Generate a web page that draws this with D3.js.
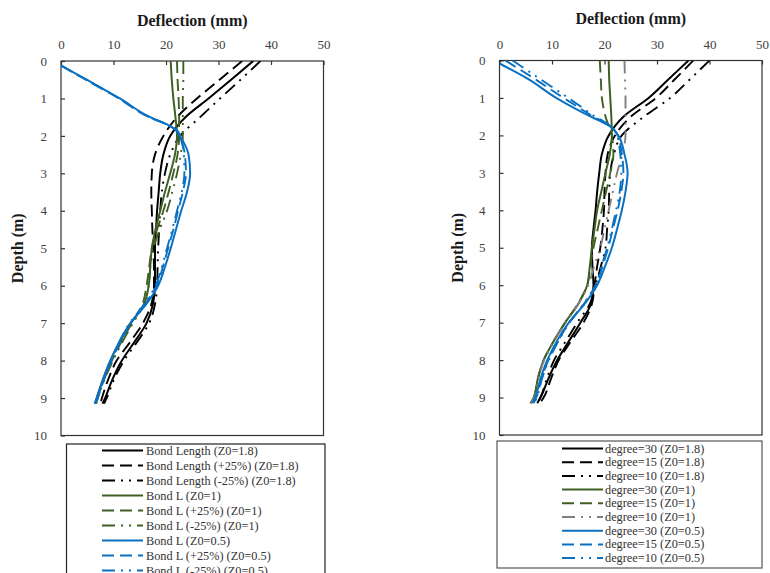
<!DOCTYPE html>
<html><head><meta charset="utf-8">
<script src="https://cdn.jsdelivr.net/npm/d3@7"></script>
<style>
body{margin:0;background:#fff;}
svg{display:block;font-family:"Liberation Serif","Times New Roman",serif;}
svg text{font-family:"Liberation Serif","Times New Roman",serif !important;}
</style></head>
<body>
<svg id="c" width="770" height="573"></svg>
<script>
// ---------- DATA ----------
const xTicks = [0, 10, 20, 30, 40, 50];
const yTicks = [0, 1, 2, 3, 4, 5, 6, 7, 8, 9, 10];
const xTitle = "Deflection (mm)";
const yTitle = "Depth (m)";

const depth = [0, 0.5, 1, 1.5, 2, 2.5, 3, 3.5, 4, 4.5, 5, 5.5, 6, 6.5, 7, 7.5, 8, 8.5, 9, 9.15];
const depthBlueL = [0.12, 0.5, 1, 1.5, 1.7, 1.85, 2, 2.5, 3, 3.5, 4, 4.5, 5, 5.5, 6, 6.5, 7, 7.5, 8, 8.5, 9, 9.15];
const depthBlueR1 = [0.08, 0.5, 1, 1.3, 1.5, 1.6, 1.75, 2, 2.5, 3, 3.5, 4, 4.5, 5, 5.5, 6, 6.5, 7, 7.5, 8, 8.5, 9, 9.15];
const depthBlueR2 = [0, 0.5, 1, 1.3, 1.5, 1.6, 1.75, 2, 2.5, 3, 3.5, 4, 4.5, 5, 5.5, 6, 6.5, 7, 7.5, 8, 8.5, 9, 9.15];

// Left chart
const leftNames = ["Bond Length (Z0=1.8)", "Bond Length (+25%) (Z0=1.8)", "Bond Length (-25%) (Z0=1.8)",
  "Bond L (Z0=1)", "Bond L (+25%) (Z0=1)", "Bond L (-25%) (Z0=1)",
  "Bond L (Z0=0.5)", "Bond L (+25%) (Z0=0.5)", "Bond L (-25%) (Z0=0.5)"];
const L_black = [36.6, 32.4, 28.1, 23.7, 20.8, 19.5, 18.9, 18.6, 18.3, 18.1, 17.9, 17.9, 17.9, 17.5, 16.3, 14.0, 11.6, 9.8, 8.4, 7.9];
const L_blackP = [34.5, 30.2, 25.9, 22.1, 19.5, 17.9, 17.3, 17.2, 17.3, 17.4, 17.6, 17.7, 17.7, 17.2, 15.6, 13.2, 10.6, 9.0, 7.8, 7.5];
const L_blackM = [38.0, 34.2, 30.3, 26.5, 22.7, 20.8, 19.8, 19.2, 18.9, 18.7, 18.5, 18.4, 18.3, 17.9, 16.8, 14.5, 12.0, 10.1, 8.7, 8.2];
const L_green = [20.9, 21.1, 21.4, 21.8, 22.1, 21.7, 20.8, 19.8, 18.9, 18.0, 17.3, 17.0, 16.7, 15.8, 13.3, 11.2, 9.4, 8.0, 6.8, 6.5];
const L_greenP = [22.1, 22.2, 22.4, 22.5, 22.5, 22.2, 21.4, 20.5, 19.5, 18.3, 17.3, 16.8, 16.3, 15.5, 13.5, 11.5, 9.7, 8.2, 6.9, 6.6];
const L_greenM = [23.3, 23.3, 23.2, 23.2, 23.2, 22.8, 22.1, 21.2, 20.2, 18.8, 17.6, 17.0, 16.7, 15.8, 13.7, 11.7, 9.9, 8.3, 7.0, 6.7];
const L_blue = [0, 4.9, 11.2, 17.0, 20.3, 22.1, 22.7, 24.3, 24.6, 24.0, 22.9, 21.9, 20.9, 19.8, 18.5, 16.2, 13.2, 11.1, 9.4, 8.0, 6.8, 6.4];
const L_blueP = [0, 4.7, 11.0, 16.8, 20.2, 21.9, 22.5, 23.6, 23.8, 23.2, 22.3, 21.4, 20.4, 19.4, 18.2, 16.0, 13.3, 11.3, 9.6, 8.2, 7.0, 6.6];
const L_blueM = [0, 4.8, 11.1, 16.9, 20.2, 22.0, 22.6, 23.4, 23.5, 23.0, 22.1, 21.2, 20.2, 19.2, 18.0, 15.8, 13.1, 11.1, 9.5, 8.1, 6.9, 6.5];

// Right chart
const rightNames = ["degree=30 (Z0=1.8)", "degree=15 (Z0=1.8)", "degree=10 (Z0=1.8)",
  "degree=30 (Z0=1)", "degree=15 (Z0=1)", "degree=10 (Z0=1)",
  "degree=30 (Z0=0.5)", "degree=15 (Z0=0.5)", "degree=10 (Z0=0.5)"];
const R_black30 = [36.0, 32.2, 28.4, 23.6, 20.8, 19.5, 19.0, 18.6, 18.3, 17.9, 17.6, 17.7, 17.9, 17.4, 15.4, 13.2, 11.0, 9.3, 7.8, 7.2];
const R_black15 = [36.9, 33.4, 29.8, 25.0, 22.0, 20.6, 20.2, 20.0, 19.9, 19.6, 19.2, 18.6, 18.1, 17.6, 16.0, 13.6, 11.3, 9.8, 8.4, 7.7];
const R_black10 = [40.0, 36.3, 32.5, 27.5, 23.3, 21.8, 21.1, 20.9, 20.8, 20.5, 20.2, 19.3, 18.3, 17.2, 14.8, 12.6, 10.4, 9.0, 7.8, 7.2];
const R_green30 = [20.8, 20.9, 21.1, 21.3, 21.4, 21.0, 20.2, 19.4, 18.6, 18.1, 17.6, 17.2, 16.7, 15.0, 12.5, 10.3, 8.4, 7.3, 6.5, 5.9];
const R_green15 = [19.1, 19.3, 19.5, 20.2, 21.4, 21.7, 21.1, 20.3, 19.5, 18.7, 17.9, 17.3, 16.7, 14.9, 12.5, 10.3, 8.4, 7.3, 6.5, 5.9];
const R_gray10 = [23.8, 23.9, 24.0, 24.0, 24.0, 23.4, 22.4, 21.6, 20.8, 20.0, 19.2, 18.0, 16.9, 15.0, 12.6, 10.4, 8.5, 7.4, 6.6, 6.0];
const R_blue30 = [0, 5.5, 10.8, 14.6, 17.4, 18.9, 21.0, 22.6, 23.8, 24.4, 24.0, 23.3, 22.4, 21.4, 20.1, 18.6, 16.2, 13.2, 10.9, 9.1, 7.8, 6.8, 6.3];
const R_blue15 = [1.1, 6.8, 12.2, 15.6, 17.9, 19.3, 21.1, 22.5, 23.3, 23.6, 23.2, 22.5, 21.6, 20.7, 19.6, 18.4, 16.1, 13.3, 11.1, 9.3, 8.0, 7.0, 6.5];
const R_blue10 = [2.5, 7.8, 13.1, 16.2, 18.2, 19.5, 21.1, 22.4, 23.0, 23.2, 22.9, 22.2, 21.4, 20.5, 19.4, 18.3, 16.0, 13.3, 11.2, 9.4, 8.1, 7.1, 6.6];

// ---------- STYLES ----------
const BLACK = "#000000", GREEN = "#3f5f24", BLUE = "#0a70c2", GRAY = "#7f7f7f";
const DASH = "12,6", DASHDOT = "13,6,2,6,2,6";

const leftSeries = [
  {name: leftNames[0], d: depth, v: L_black, c: BLACK, dash: null},
  {name: leftNames[1], d: depth, v: L_blackP, c: BLACK, dash: DASH},
  {name: leftNames[2], d: depth, v: L_blackM, c: BLACK, dash: DASHDOT},
  {name: leftNames[3], d: depth, v: L_green, c: GREEN, dash: null},
  {name: leftNames[4], d: depth, v: L_greenP, c: GREEN, dash: DASH},
  {name: leftNames[5], d: depth, v: L_greenM, c: GREEN, dash: DASHDOT},
  {name: leftNames[6], d: depthBlueL, v: L_blue, c: BLUE, dash: null},
  {name: leftNames[7], d: depthBlueL, v: L_blueP, c: BLUE, dash: DASH},
  {name: leftNames[8], d: depthBlueL, v: L_blueM, c: BLUE, dash: DASHDOT}
];
const rightSeries = [
  {name: rightNames[0], d: depth, v: R_black30, c: BLACK, dash: null},
  {name: rightNames[1], d: depth, v: R_black15, c: BLACK, dash: DASH},
  {name: rightNames[2], d: depth, v: R_black10, c: BLACK, dash: DASHDOT},
  {name: rightNames[3], d: depth, v: R_green30, c: GREEN, dash: null},
  {name: rightNames[4], d: depth, v: R_green15, c: GREEN, dash: DASH},
  {name: rightNames[5], d: depth, v: R_gray10, c: GRAY, dash: DASHDOT},
  {name: rightNames[6], d: depthBlueR1, v: R_blue30, c: BLUE, dash: null},
  {name: rightNames[7], d: depthBlueR2, v: R_blue15, c: BLUE, dash: DASH},
  {name: rightNames[8], d: depthBlueR2, v: R_blue10, c: BLUE, dash: DASHDOT}
];

const svg = d3.select("#c");

function drawChart(cfg) {
  const g = svg.append("g");
  const x = d3.scaleLinear().domain([0, 50]).range([cfg.x0, cfg.x1]);
  const y = d3.scaleLinear().domain([0, 10]).range([cfg.y0, cfg.y1]);

  g.append("rect").attr("x", cfg.x0).attr("y", cfg.y0)
    .attr("width", cfg.x1 - cfg.x0).attr("height", cfg.y1 - cfg.y0)
    .attr("fill", "none").attr("stroke", "#333").attr("stroke-width", 1.2);

  const xa = g.append("g").attr("transform", `translate(0,${cfg.y0})`)
    .call(d3.axisTop(x).tickValues(xTicks).tickSize(-4).tickPadding(12).tickFormat(d3.format("d")));
  const ya = g.append("g").attr("transform", `translate(${cfg.x0},0)`)
    .call(d3.axisLeft(y).tickValues(yTicks).tickSize(-4).tickPadding(14).tickFormat(d3.format("d")));
  [xa, ya].forEach(a => {
    a.attr("font-family", null).attr("font-size", null);
    a.select(".domain").remove();
    a.selectAll("line").attr("stroke", "#333").attr("stroke-width", 1.2);
    a.selectAll("text").style("font-family", "'Liberation Serif', serif").style("font-size", "13px").attr("fill", "#404040");
  });

  g.append("text").attr("x", (cfg.x0 + cfg.x1) / 2).attr("y", cfg.titleY)
    .attr("text-anchor", "middle").attr("font-weight", "bold").attr("font-size", 16)
    .attr("fill", "#1a1a1a").text(xTitle);
  g.append("text").attr("transform", `translate(${cfg.yTitleX},${(cfg.y0 + cfg.y1) / 2}) rotate(-90)`)
    .attr("text-anchor", "middle").attr("font-weight", "bold").attr("font-size", 16)
    .attr("fill", "#1a1a1a").text(yTitle);

  const line = d3.line().x(p => x(p[1])).y(p => y(p[0])).curve(d3.curveMonotoneY);
  const clip = "clip" + cfg.id;
  g.append("clipPath").attr("id", clip).append("rect")
    .attr("x", cfg.x0).attr("y", cfg.y0).attr("width", cfg.x1 - cfg.x0).attr("height", cfg.y1 - cfg.y0);
  const lg = g.append("g").attr("clip-path", `url(#${clip})`);
  cfg.series.forEach(s => {
    const pts = s.d.map((dd, i) => [dd, s.v[i]]);
    lg.append("path").attr("d", line(pts)).attr("fill", "none")
      .attr("stroke", s.c).attr("stroke-width", s.dash ? 1.9 : 2)
      .attr("stroke-dasharray", s.dash).attr("stroke-linecap", "butt");
  });

  const L = cfg.legend;
  g.append("rect").attr("x", L.x).attr("y", L.y).attr("width", L.w).attr("height", L.h)
    .attr("fill", "#fff").attr("stroke", L.stroke).attr("stroke-width", 1.2);
  cfg.series.forEach((s, i) => {
    const cy = L.row0 + i * L.step;
    g.append("line").attr("x1", L.lx0).attr("x2", L.lx1).attr("y1", cy).attr("y2", cy)
      .attr("stroke", s.c).attr("stroke-width", 2).attr("stroke-dasharray", s.dash);
    g.append("text").attr("x", L.tx).attr("y", cy + 4).attr("font-size", 12.3)
      .attr("fill", "#333").text(s.name);
  });
}

drawChart({id: "L", series: leftSeries, x0: 61, x1: 323.5, y0: 61, y1: 435.5, titleY: 26, yTitleX: 23,
  legend: {x: 66.5, y: 444, w: 258.5, h: 140, stroke: "#222", row0: 450.5, step: 15, lx0: 102, lx1: 143, tx: 146}});
drawChart({id: "R", series: rightSeries, x0: 499.5, x1: 762, y0: 60.5, y1: 435, titleY: 24, yTitleX: 463,
  legend: {x: 497, y: 441, w: 265, h: 127, stroke: "#555", row0: 448.5, step: 13.7, lx0: 562, lx1: 603, tx: 605}});
</script>
</body></html>
